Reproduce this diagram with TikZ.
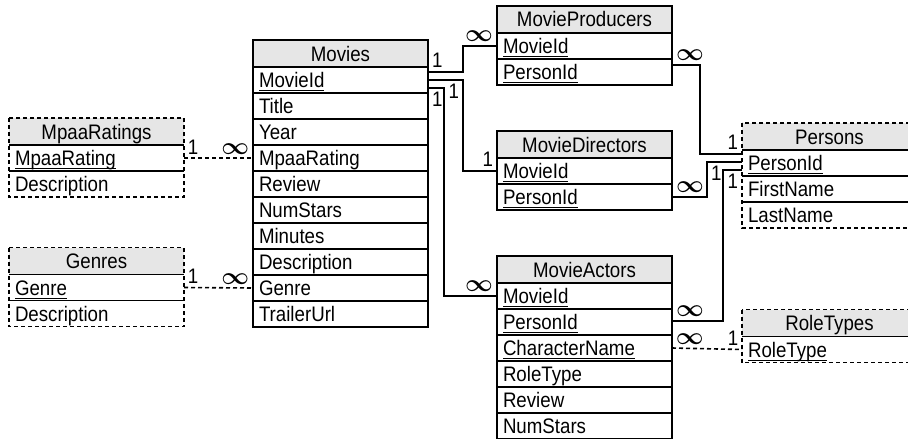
\RequirePackage{fix-cm}
\documentclass[tikz,border=0pt]{standalone}
\usepackage{fontspec}
\setmainfont{Liberation Sans}[FakeStretch=0.89]
\usepackage{bm}
\usepackage{tikz}
\usetikzlibrary{positioning}
\definecolor{hdrgray}{RGB}{230,230,230}
\newcommand{\pk}[1]{\setbox0\hbox{#1}\rlap{\rule[-3.5pt]{\wd0}{0.8pt}}\box0}
\newcommand{\many}{\scalebox{1.15}{$\bm{\infty}$}}

\begin{document}
\begin{tikzpicture}[
  x=1pt, y=-1pt,
  tblhead/.style={rectangle, fill=hdrgray, minimum width=175pt, minimum height=27pt,
                  inner sep=0pt, outer sep=0pt, text height=15pt, text depth=0pt,
                  font=\fontsize{21}{24}\selectfont},
  tblrow/.style={rectangle, minimum height=26pt, inner xsep=6pt, inner ysep=0pt,
                 outer sep=0pt, text width=163pt, align=left, text height=15pt,
                 text depth=0pt, font=\fontsize{21}{24}\selectfont},
  solidtbl/.style={draw, line width=1.2pt},
  tblline/.style={line width=1.2pt},
  dashtbl/.style={line width=1.2pt, dash pattern=on 4pt off 3pt},
  link/.style={line width=2.2pt},
  optlink/.style={line width=1.6pt, dash pattern=on 4pt off 3pt},
  card/.style={inner sep=3pt, font=\fontsize{21}{24}\selectfont}
]
  \useasboundingbox (0,0) rectangle (908,439);
  \clip (0,0) rectangle (908,439);

  % Movies
  \node[tblhead, solidtbl, anchor=north west] (mv-0) at (253,40) {Movies};
  \foreach \f [count=\i, evaluate=\i as \j using int(\i-1)] in
      {\pk{MovieId}, Title, Year, MpaaRating, Review, NumStars, Minutes,
       Description, Genre, TrailerUrl}
    \node[tblrow, solidtbl, below=0pt of mv-\j] (mv-\i) {\f};

  % MpaaRatings
  \node[tblhead, anchor=north west] (mr-0) at (9,118) {MpaaRatings};
  \node[tblrow, below=0pt of mr-0] (mr-1) {\pk{MpaaRating}};
  \node[tblrow, below=0pt of mr-1] (mr-2) {Description};
  \draw[tblline] (mr-0.south west) -- (mr-0.south east)
                 (mr-1.south west) -- (mr-1.south east);
  \draw[dashtbl] (mr-0.north west) rectangle (mr-2.south east);

  % Genres
  \node[tblhead, anchor=north west] (gn-0) at (9,247.5) {Genres};
  \node[tblrow, below=0pt of gn-0] (gn-1) {\pk{Genre}};
  \node[tblrow, below=0pt of gn-1] (gn-2) {Description};
  \draw[tblline] (gn-0.south west) -- (gn-0.south east)
                 (gn-1.south west) -- (gn-1.south east);
  \draw[dashtbl] (gn-0.north west) rectangle (gn-2.south east);

  % MovieProducers
  \node[tblhead, solidtbl, anchor=north west] (mp-0) at (497,6) {MovieProducers};
  \node[tblrow, solidtbl, below=0pt of mp-0] (mp-1) {\pk{MovieId}};
  \node[tblrow, solidtbl, below=0pt of mp-1] (mp-2) {\pk{PersonId}};

  % MovieDirectors
  \node[tblhead, solidtbl, anchor=north west] (md-0) at (497,131) {MovieDirectors};
  \node[tblrow, solidtbl, below=0pt of md-0] (md-1) {\pk{MovieId}};
  \node[tblrow, solidtbl, below=0pt of md-1] (md-2) {\pk{PersonId}};

  % MovieActors
  \node[tblhead, solidtbl, anchor=north west] (ma-0) at (497,256) {MovieActors};
  \foreach \f [count=\i, evaluate=\i as \j using int(\i-1)] in
      {\pk{MovieId}, \pk{PersonId}, \pk{CharacterName}, RoleType, Review, NumStars}
    \node[tblrow, solidtbl, below=0pt of ma-\j] (ma-\i) {\f};

  % Persons
  \node[tblhead, anchor=north west] (ps-0) at (742,123) {Persons};
  \node[tblrow, below=0pt of ps-0] (ps-1) {\pk{PersonId}};
  \node[tblrow, below=0pt of ps-1] (ps-2) {FirstName};
  \node[tblrow, below=0pt of ps-2] (ps-3) {LastName};
  \draw[tblline] (ps-0.south west) -- (ps-0.south east)
                 (ps-1.south west) -- (ps-1.south east)
                 (ps-2.south west) -- (ps-2.south east);
  \draw[dashtbl] (ps-0.north west) rectangle (ps-3.south east);

  % RoleTypes
  \node[tblhead, anchor=north west] (rt-0) at (742,309.5) {RoleTypes};
  \node[tblrow, below=0pt of rt-0] (rt-1) {\pk{RoleType}};
  \draw[tblline] (rt-0.south west) -- (rt-0.south east);
  \draw[dashtbl] (rt-0.north west) rectangle (rt-1.south east);

  % relationships
  \draw[link] ([yshift=8pt]mv-1.east) node[card, above right]{1}
    -- ++(35,0) |- (mp-1.west) node[card, above left]{\many};
  \draw[link] (mv-1.east) -- ++(35,0) node[card, below left]{1}
    |- (md-1.west) node[card, above left]{1};
  \draw[link] ([yshift=-8pt]mv-1.east) node[card, below right]{1}
    -- ++(16,0) |- (ma-1.west) node[card, above left]{\many};

  \draw[link] ([yshift=7pt]mp-2.east) node[card, above right]{\many}
    -- ++(28,0) |- ([yshift=9pt]ps-1.west) node[card, above left]{1};
  \draw[link] (md-2.east) node[card, above right]{\many}
    -- ++(35,0) |- node[pos=0.5, card, below right]{1} ([yshift=1pt]ps-1.west);
  \draw[link] ([yshift=1pt]ma-2.east) node[card, above right]{\many}
    -- ++(51,0) |- ([yshift=-7pt]ps-1.west) node[card, below left]{1};

  \draw[optlink] (ma-3.east) node[card, above right]{\many}
    -- (rt-1.west) node[card, above left]{1};
  \draw[optlink] (mr-1.east) node[card, above right]{1}
    -- (mv-4.west) node[card, above left]{\many};
  \draw[optlink] (gn-1.east) node[card, above right]{1}
    -- (mv-9.west) node[card, above left]{\many};
\end{tikzpicture}
\end{document}
